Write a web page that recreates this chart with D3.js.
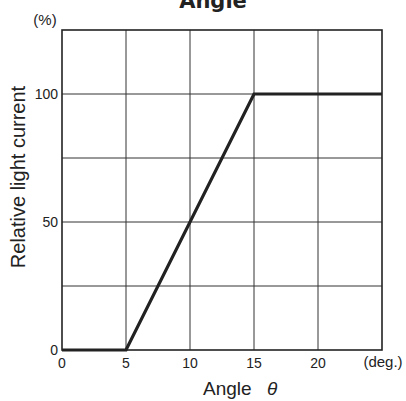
<!DOCTYPE html>
<html lang="en">
<head>
<meta charset="UTF-8">
<title>Angle</title>
<style>
  body { margin: 0; background: #fff; }
  svg text { font-family: "Liberation Sans", Arial, sans-serif; fill: #222; }
</style>
</head>
<body>
<svg id="svg"></svg>
<script src="https://d3js.org/d3.v7.min.js"></script>
<script>
// values
const angles = [0, 5, 15, 25];
const current = [0, 0, 100, 100];
const xTicks = [0, 5, 10, 15, 20];
const yTicks = [0, 50, 100];
const yGrid = [25, 50, 75, 100];

const width = 406, height = 401;
const margin = {top: 30, left: 62, right: 24, bottom: 51};
const innerW = width - margin.left - margin.right;
const innerH = height - margin.top - margin.bottom;

const svg = d3.select("#svg").attr("width", width).attr("height", height);

const x = d3.scaleLinear().domain([0, 25]).range([margin.left, margin.left + innerW]);
const y = d3.scaleLinear().domain([0, 125]).range([margin.top + innerH, margin.top]);

// title (top cut by the frame)
svg.append("text")
  .attr("x", 213).attr("y", 8)
  .attr("text-anchor", "middle")
  .attr("font-size", 21).attr("font-weight", "bold")
  .style("font-family", "'DejaVu Sans', sans-serif")
  .text("Angle");

// grid
const grid = svg.append("g").attr("stroke", "#333").attr("stroke-width", 1);
grid.selectAll(".vx").data(xTicks.slice(1)).join("line")
  .attr("x1", d => x(d)).attr("x2", d => x(d))
  .attr("y1", y(125)).attr("y2", y(0));
grid.selectAll(".hy").data(yGrid).join("line")
  .attr("x1", x(0)).attr("x2", x(25))
  .attr("y1", d => y(d)).attr("y2", d => y(d));

// frame
svg.append("rect")
  .attr("x", x(0)).attr("y", y(125))
  .attr("width", x(25) - x(0)).attr("height", y(0) - y(125))
  .attr("fill", "none").attr("stroke", "#222").attr("stroke-width", 1.6);

// data line
const line = d3.line().x((d, i) => x(angles[i])).y(d => y(d));
svg.append("path")
  .datum(current)
  .attr("d", line)
  .attr("fill", "none").attr("stroke", "#222").attr("stroke-width", 3.2);

// tick labels
svg.selectAll(".xt").data(xTicks).join("text")
  .attr("x", d => x(d)).attr("y", y(0) + 18)
  .attr("text-anchor", "middle").attr("font-size", 14)
  .text(d => d);
svg.append("text")
  .attr("x", 383).attr("y", y(0) + 17)
  .attr("text-anchor", "middle").attr("font-size", 15)
  .text("(deg.)");

svg.selectAll(".yt").data(yTicks).join("text")
  .attr("x", x(0) - 4).attr("y", d => y(d) + 5)
  .attr("text-anchor", "end").attr("font-size", 14)
  .text(d => d);
svg.append("text")
  .attr("x", 45).attr("y", 25)
  .attr("text-anchor", "middle").attr("font-size", 15)
  .text("(%)");

// axis titles
svg.append("text")
  .attr("x", 203).attr("y", 395)
  .attr("font-size", 19)
  .text("Angle");
svg.append("text")
  .attr("x", 267).attr("y", 395)
  .attr("font-size", 19).attr("font-style", "italic")
  .text("\u03b8");

svg.append("text")
  .attr("transform", "translate(25,177) rotate(-90)")
  .attr("text-anchor", "middle").attr("font-size", 20)
  .text("Relative light current");
</script>
</body>
</html>
